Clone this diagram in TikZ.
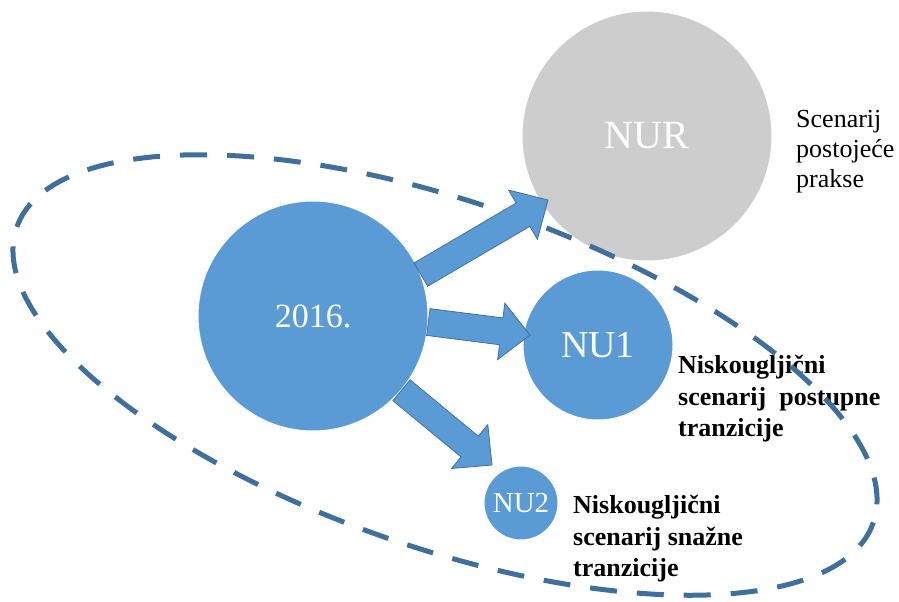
\documentclass[tikz,border=0pt]{standalone}
\usepackage{fontspec}
\setmainfont{Liberation Serif}
\usetikzlibrary{calc}
\definecolor{bluefill}{HTML}{5B9BD5}
\definecolor{blueline}{HTML}{41719C}
\definecolor{greyfill}{HTML}{CDCDCD}
\definecolor{dashcol}{HTML}{3F6F9C}
\tikzset{
  disc/.style={circle, draw=white, line width=1pt, inner sep=0pt, text=white},
  plaintxt/.style={anchor=north west, align=left, inner sep=0pt, font=\fontsize{26}{30}\selectfont},
  boldtxt/.style={anchor=north west, align=left, inner sep=0pt, font=\fontsize{26}{31.5}\selectfont\bfseries},
  blockarr/.style={fill=bluefill, draw=blueline, line width=0.8pt, line join=miter},
  scope line/.style={draw=dashcol, line width=5pt, dash pattern=on 27pt off 20pt}
}
\newcommand\blockarrow[2]{%
  \coordinate (hb) at ($(#2)!29pt!(#1)$);
  \draw[blockarr] ($(#1)!13.5pt!90:(#2)$) -- ($(hb)!13.5pt!-90:(#1)$) -- ($(hb)!28.5pt!-90:(#1)$)
     -- (#2) -- ($(hb)!28.5pt!90:(#1)$) -- ($(hb)!13.5pt!90:(#1)$) -- ($(#1)!13.5pt!-90:(#2)$) -- cycle;
}
\begin{document}
\begin{tikzpicture}[x=1pt,y=-1pt]
\useasboundingbox (0,0) rectangle (899,602);
% NUR circle and texts (below the dashed line)
\node[disc, fill=greyfill, minimum size=250, font=\fontsize{40}{48}\selectfont] (nur) at (647,136) {NUR};
\node[plaintxt] (tnur) at (796,110) {Scenarij\\postojeće\\prakse};
\node[boldtxt] (tnu1) at (678,355) {Niskougljični\\scenarij~ postupne\\tranzicije};
\node[boldtxt] (tnu2) at (573,495) {Niskougljični\\scenarij snažne\\tranzicije};
% blue circles
\node[disc, fill=bluefill, minimum size=230, font=\fontsize{34}{40}\selectfont] (y2016) at (313,316) {2016.};
\node[disc, fill=bluefill, minimum size=150, font=\fontsize{38}{45}\selectfont] (nu1) at (598,345) {NU1};
\node[disc, fill=bluefill, minimum size=74, font=\fontsize{29}{34}\selectfont] (nu2) at (521,503) {NU2};
% dashed scope
\draw[scope line, rotate around={-19:(445,375)}] (445,375) ellipse [x radius=453, y radius=173];
% arrows
\coordinate (s1) at (y2016.21);
\coordinate (t1) at (548,200);
\coordinate (s2) at (y2016.-3);
\coordinate (t2) at (530,335);
\coordinate (s3) at (y2016.-40);
\coordinate (t3) at (492,465);
\blockarrow{s1}{t1}
\blockarrow{s2}{t2}
\blockarrow{s3}{t3}
\end{tikzpicture}
\end{document}
